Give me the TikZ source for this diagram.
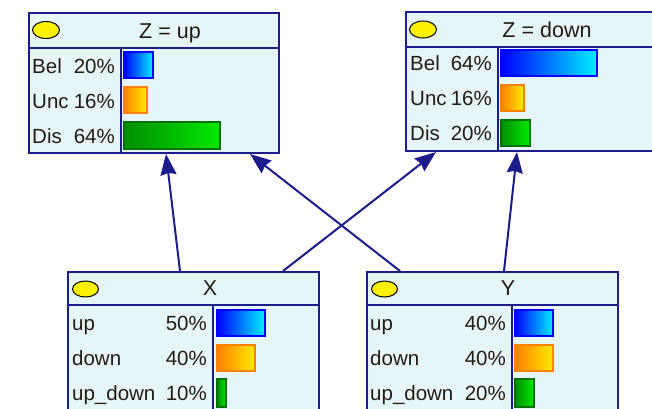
\documentclass[tikz,border=0pt]{standalone}
\usepackage{fontspec}
\setmainfont{Liberation Sans}
\usetikzlibrary{arrows.meta,calc,shapes.geometric}
\definecolor{navy}{RGB}{28,28,140}
\definecolor{boxfill}{RGB}{230,245,247}
\definecolor{txt}{RGB}{35,28,20}
\definecolor{barblue}{RGB}{0,0,255}
\definecolor{barcyan}{RGB}{0,240,255}
\definecolor{barorange}{RGB}{255,128,0}
\definecolor{baryellow}{RGB}{255,235,0}
\definecolor{bardkgreen}{RGB}{0,140,0}
\definecolor{barltgreen}{RGB}{0,235,0}
\tikzset{
  box/.style={draw=navy, line width=2pt, fill=boxfill, rectangle, inner sep=0pt, anchor=north west},
  sepline/.style={draw=navy, line width=2pt},
  bel/.style={draw=barblue, line width=1.3pt, left color=barblue, right color=barcyan},
  unc/.style={draw=barorange, line width=1.3pt, left color=barorange, right color=baryellow},
  dis/.style={draw=bardkgreen!80!black, line width=1.3pt, left color=bardkgreen, right color=barltgreen},
  lab/.style={text=txt, inner sep=0pt, font=\fontsize{20.5}{23}\selectfont},
  labl/.style={lab, anchor=base west},
  labr/.style={lab, anchor=base east},
  ttl/.style={text=txt, inner sep=0pt, anchor=base, font=\fontsize{21.5}{25}\selectfont},
  oval/.style={draw=black, line width=1pt, fill=yellow},
  arr/.style={draw=navy, line width=2pt, -{Stealth[length=21pt,width=16pt,inset=2pt]}}
}
\begin{document}
\begin{tikzpicture}[x=1pt,y=-1pt]
\useasboundingbox (0,0) rectangle (652,408);
\clip (0,0) rectangle (652,408);
\fill[white] (0,0) rectangle (652,408);

% ---------- Z = up ----------
\node[box, minimum width=250pt, minimum height=140pt] (zup) at (28,12) {};
\draw[sepline] (28,48) -- (278,48);
\draw[sepline] (121,48) -- (121,152);
\draw[oval] (46,30) ellipse [x radius=13.5, y radius=8.5];
\node[ttl] (zupt) at (170,38) {Z = up};
\draw[bel] (124,52) rectangle (153,78);
\draw[unc] (124,87) rectangle (147,113);
\draw[dis] (124,122) rectangle (220,149);
\node[labl] (zupl1) at (32,73) {Bel};
\node[labr] (zupp1) at (115,73) {20\%};
\node[labl] (zupl2) at (32,108) {Unc};
\node[labr] (zupp2) at (115,108) {16\%};
\node[labl] (zupl3) at (32,143) {Dis};
\node[labr] (zupp3) at (115,143) {64\%};

% ---------- Z = down ----------
\node[box, minimum width=260pt, minimum height=139pt] (zdn) at (405,11) {};
\draw[sepline] (405,47) -- (665,47);
\draw[sepline] (498,47) -- (498,150);
\draw[oval] (423,29.5) ellipse [x radius=13.5, y radius=8.5];
\node[ttl] (zdnt) at (547,37) {Z = down};
\draw[bel] (501,50) rectangle (597,76);
\draw[unc] (501,85) rectangle (524,111);
\draw[dis] (501,120) rectangle (530,146);
\node[labl] (zdnl1) at (410,70) {Bel};
\node[labr] (zdnp1) at (492,70) {64\%};
\node[labl] (zdnl2) at (410,105) {Unc};
\node[labr] (zdnp2) at (492,105) {16\%};
\node[labl] (zdnl3) at (410,140) {Dis};
\node[labr] (zdnp3) at (492,140) {20\%};

% ---------- X ----------
\node[box, minimum width=251pt, minimum height=150pt] (xb) at (67,271) {};
\draw[sepline] (67,305) -- (318,305);
\draw[sepline] (213,305) -- (213,420);
\draw[oval] (85.5,289) ellipse [x radius=13, y radius=8];
\node[ttl] (xt) at (210,295.5) {X};
\draw[bel] (217,310) rectangle (265,336);
\draw[unc] (217,345) rectangle (255,371);
\draw[dis] (217,379) rectangle (226,407);
\node[labl] (xl1) at (72,330) {up};
\node[labr] (xp1) at (207,330) {50\%};
\node[labl] (xl2) at (72,365) {down};
\node[labr] (xp2) at (207,365) {40\%};
\node[labl] (xl3) at (72,400) {up\_down};
\node[labr] (xp3) at (207,400) {10\%};

% ---------- Y ----------
\node[box, minimum width=251pt, minimum height=150pt] (yb) at (366,271) {};
\draw[sepline] (366,305) -- (617,305);
\draw[sepline] (512,305) -- (512,420);
\draw[oval] (384.5,289) ellipse [x radius=13, y radius=8];
\node[ttl] (yt) at (508,295.5) {Y};
\draw[bel] (515,310) rectangle (553,336);
\draw[unc] (515,345) rectangle (553,371);
\draw[dis] (515,379) rectangle (534,407);
\node[labl] (yl1) at (370,330) {up};
\node[labr] (yp1) at (506,330) {40\%};
\node[labl] (yl2) at (370,365) {down};
\node[labr] (yp2) at (506,365) {40\%};
\node[labl] (yl3) at (370,400) {up\_down};
\node[labr] (yp3) at (506,400) {20\%};

% ---------- connectors ----------
\draw[arr] ($(xb.north west)+(113,0)$) -- ($(zup.south west)+(138,0)$);
\draw[arr] ($(yb.north west)+(34,0)$) -- ($(zup.south west)+(222,0)$);
\draw[arr] ($(xb.north west)+(216,0)$) -- ($(zdn.south west)+(31,0)$);
\draw[arr] ($(yb.north west)+(138,0)$) -- ($(zdn.south west)+(112,0)$);
\end{tikzpicture}
\end{document}
